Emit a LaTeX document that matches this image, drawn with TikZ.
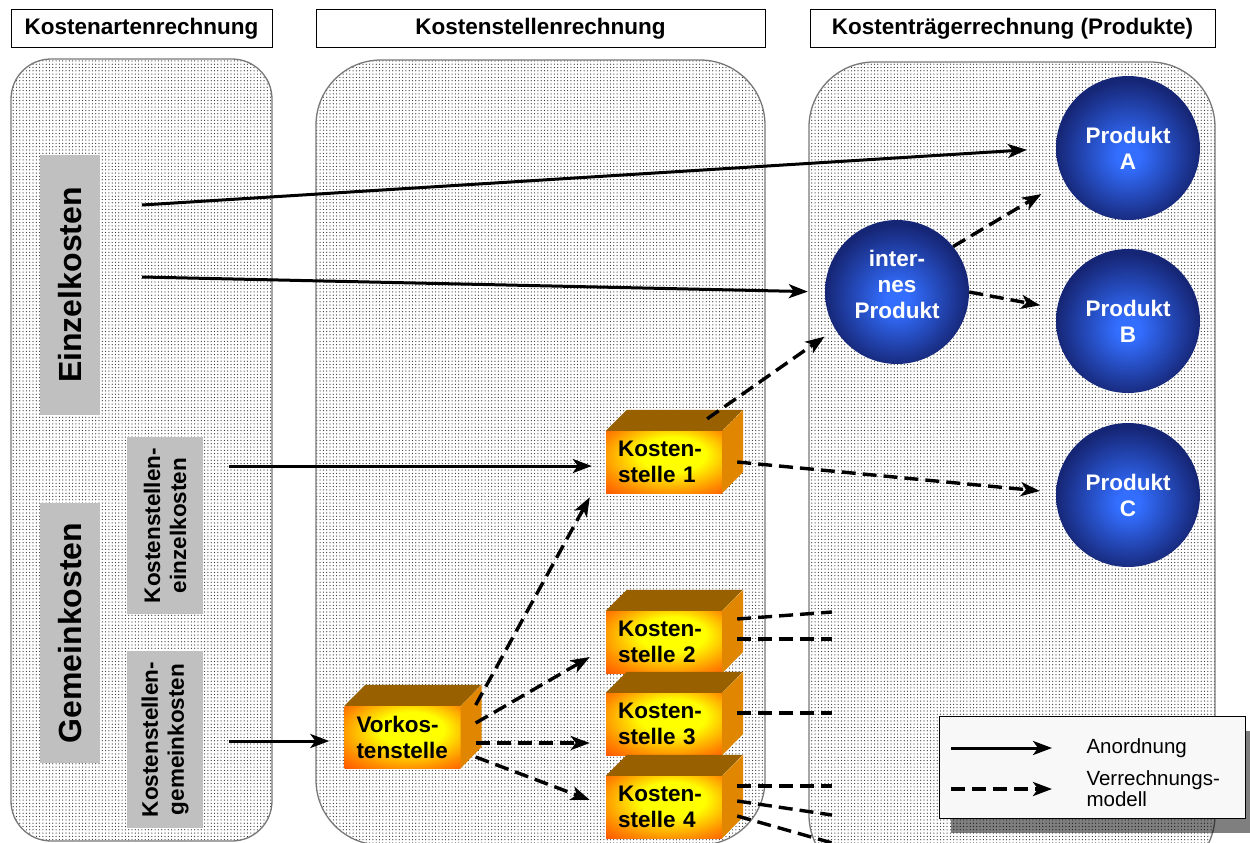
\documentclass[tikz,border=0pt]{standalone}
\usepackage{fontspec}
\setmainfont{Liberation Sans}
\usetikzlibrary{positioning, arrows.meta, patterns, shadows}
\definecolor{cgrau}{RGB}{192,192,192}
\definecolor{crand}{RGB}{120,120,120}
\definecolor{cdach}{RGB}{153,96,0}
\definecolor{cseite}{RGB}{224,134,0}
\definecolor{cgelb}{RGB}{255,255,0}
\definecolor{corange}{RGB}{255,140,0}
\definecolor{crot}{RGB}{255,80,0}
\definecolor{chell}{RGB}{51,110,255}
\definecolor{cdunkel}{RGB}{22,38,118}
\definecolor{clegende}{RGB}{248,248,248}

\pgfdeclareradialshading{ksfarbe}{\pgfpoint{5bp}{8bp}}{color(0bp)=(cgelb); color(14bp)=(cgelb); color(30bp)=(corange); color(40bp)=(crot); color(60bp)=(crot)}
\pgfdeclareradialshading{kugel}{\pgfpoint{0bp}{-3bp}}{color(0bp)=(chell); color(4bp)=(chell); color(25bp)=(cdunkel); color(50bp)=(cdunkel)}
\pgfdeclarepatternformonly{punkte}{\pgfpoint{-1pt}{-1pt}}{\pgfpoint{1pt}{1pt}}{\pgfpoint{3.3pt}{3.3pt}}%
  {\pgfpathcircle{\pgfpointorigin}{0.62pt}\pgfusepath{fill}}

\begin{document}
\begin{tikzpicture}[x=1pt, y=-1pt, >={Stealth[length=19pt, width=14pt, inset=5pt]},
    kopf/.style={draw, line width=1pt, fill=white, minimum height=38pt, inner sep=0pt,
      font=\fontsize{22.5}{26}\selectfont\bfseries},
    panel/.style={draw=crand, line width=1.3pt, preaction={fill=white},
      pattern=punkte, pattern color=black!80},
    grau/.style={fill=cgrau, inner sep=0pt, rotate=90, align=center},
    grossgrau/.style={grau, minimum width=260pt, minimum height=60pt,
      font=\fontsize{32}{36}\selectfont\bfseries},
    kleingrau/.style={grau, minimum width=177pt, minimum height=76pt,
      font=\fontsize{22.5}{26}\selectfont\bfseries},
    ksfront/.style={shade, shading=ksfarbe, text width=92pt, inner xsep=12pt, inner ysep=0pt,
      minimum height=62pt, align=left, font=\fontsize{22.5}{26}\selectfont\bfseries},
    ksdach/.style={fill=cdach},
    ksseite/.style={fill=cseite},
    kugelknoten/.style={circle, shade, shading=kugel, minimum size=144pt, inner sep=0pt,
      align=center, text=white, font=\fontsize{22.5}{26}\selectfont\bfseries},
    anord/.style={->, line width=3pt},
    verr/.style={->, line width=3.4pt, dash pattern=on 14pt off 7pt},
    stummel/.style={line width=3.4pt, dash pattern=on 14pt off 7pt},
    legende/.style={draw, line width=1pt, fill=clegende, minimum width=306pt, minimum height=102pt,
      drop shadow={shadow xshift=12pt, shadow yshift=-15pt, fill=black, opacity=0.5}},
    legtext/.style={anchor=west, align=left, font=\fontsize{20.5}{21}\selectfont}]

  \useasboundingbox (0,0) rectangle (1250,843);
  \clip (0,0) rectangle (1250,843);

  % --- Spalten ---
  \draw[panel, rounded corners=40pt] (11,59) rectangle (272,841);
  \draw[panel, rounded corners=65pt] (316,60) rectangle (765,845);
  \draw[panel, rounded corners=65pt] (809,62) rectangle (1215,880);

  \node[kopf, minimum width=261pt] (hka) at (141.5,29) {Kostenartenrechnung};
  \node[kopf, minimum width=449pt] (hks) at (540.5,29) {Kostenstellenrechnung};
  \node[kopf, minimum width=405pt] (hkt) at (1012.5,29) {Kostenträgerrechnung (Produkte)};

  % --- Kostenarten (links) ---
  \node[grossgrau] (ek) at (70,285) {Einzelkosten};
  \node[grossgrau] (gk) at (70,633) {Gemeinkosten};
  \node[kleingrau] (kse) at (165,525.5) {Kostenstellen-\\einzelkosten};
  \node[kleingrau] (ksg) at (165,739.5) {Kostenstellen-\\gemeinkosten};

  \coordinate (ekA) at (142,205);
  \coordinate (ekB) at (142,277);
  \coordinate (kseP) at (229,466);
  \coordinate (ksgP) at (229,741);

  % --- Kostenstellen (Mitte) ---
  \foreach \nm/\x/\y/\txt in {vks/402.5/737/{Vorkos-\\tenstelle},
      ks1/664/462/{Kosten-\\stelle 1}, ks2/664/642/{Kosten-\\stelle 2},
      ks3/664/724/{Kosten-\\stelle 3}, ks4/664/807/{Kosten-\\stelle 4}} {
    \node[ksfront] (\nm) at (\x,\y) {\txt};
    \fill[ksdach] (\nm.north west) -- ++(21,-21) -- ++(116,0) -- (\nm.north east) -- cycle;
    \fill[ksseite] (\nm.north east) -- ++(21,-21) -- ++(0,62) -- (\nm.south east) -- cycle;
  }

  % --- Kostentraeger (rechts) ---
  \node[kugelknoten, text depth=16pt] (intern) at (897,292) {inter-\\nes\\Produkt};
  \node[kugelknoten] (pA) at (1128,148) {Produkt\\A};
  \node[kugelknoten] (pB) at (1128,321) {Produkt\\B};
  \node[kugelknoten] (pC) at (1128,495) {Produkt\\C};

  % --- Anordnung ---
  \draw[anord, shorten >=29pt] (ekA) -- (pA.west);
  \draw[anord, shorten >=17pt] (ekB) -- (intern.west);
  \draw[anord, shorten >=14pt] (kseP) -- ([yshift=-4pt]ks1.west);
  \draw[anord, shorten >=15pt] (ksgP) -- ([yshift=-4pt]vks.west);

  % --- Verrechnung ---
  \draw[verr, shorten >=13pt] ([xshift=-15pt,yshift=12pt]ks1.north east) -- (intern.211);
  \draw[verr, shorten >=26pt] (intern.39) -- (pA.207);
  \draw[verr, shorten >=17pt] (intern.east) -- (pB.170);
  \draw[verr, shorten >=16pt] ([xshift=15pt]ks1.east) -- (pC.178);

  \draw[verr] ([xshift=15pt,yshift=32pt]vks.east) -- ([xshift=-16pt,yshift=-4pt]ks1.south west);
  \draw[verr] ([xshift=15pt,yshift=14pt]vks.east) -- ([xshift=-16pt,yshift=-15pt]ks2.west);
  \draw[verr] ([xshift=15pt,yshift=-6pt]vks.east) -- ([xshift=-16pt,yshift=-19pt]ks3.west);
  \draw[verr] ([xshift=15pt,yshift=-20pt]vks.east) -- ([xshift=-16pt,yshift=7pt]ks4.west);

  \coordinate (s2a) at (832,612);
  \coordinate (s2b) at (832,639);
  \coordinate (s3) at (832,713);
  \coordinate (s4a) at (832,786);
  \coordinate (s4b) at (832,815);
  \coordinate (s4c) at (850,848);
  \foreach \s/\dy/\e in {ks2/23/s2a, ks2/3/s2b, ks3/11/s3, ks4/21/s4a, ks4/6/s4b, ks4/-9/s4c}
    \draw[stummel] ([xshift=15pt,yshift=\dy pt]\s.east) -- (\e);

  % --- Legende ---
  \node[legende] (leg) at (1092,767) {};
  \node[legtext] (lan) at (1083,748) {Anordnung};
  \node[legtext] (lve) at (1083,789) {Verrechnungs-\\modell};
  \draw[anord] ([xshift=-132pt]lan.west) -- ([xshift=-31pt]lan.west);
  \draw[verr] ([xshift=-132pt]lve.west) -- ([xshift=-31pt]lve.west);
\end{tikzpicture}
\end{document}
